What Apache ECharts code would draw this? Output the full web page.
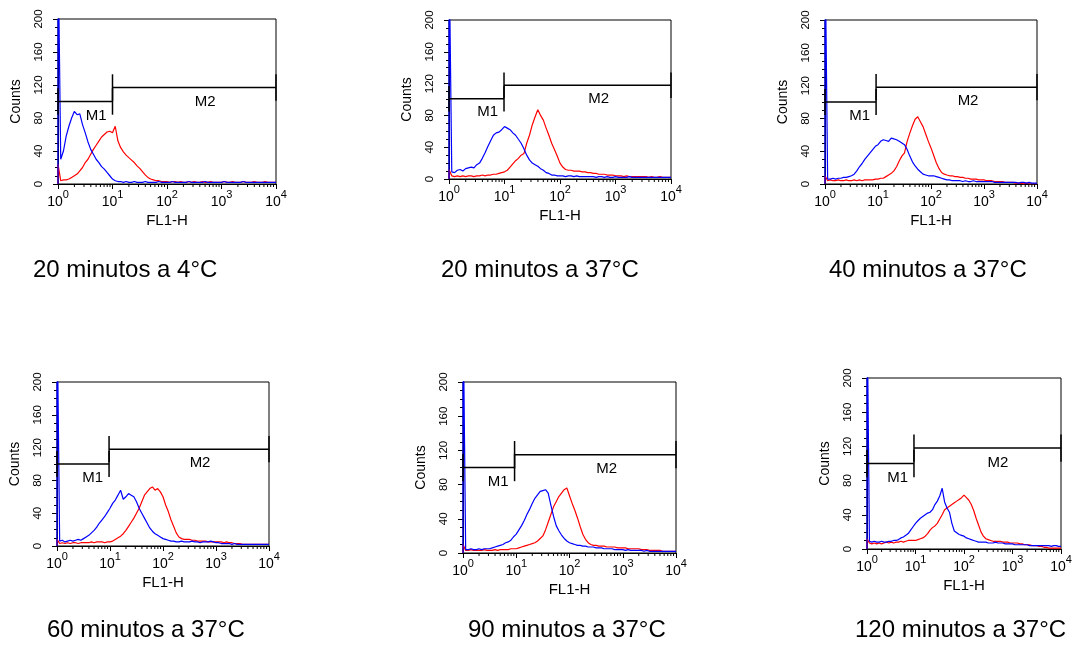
<!DOCTYPE html>
<html><head><meta charset="utf-8">
<script src="https://cdn.jsdelivr.net/npm/echarts@6/dist/echarts.min.js"></script>
<style>html,body{margin:0;padding:0;background:#fff}#c{width:1076px;height:645px}</style>
</head><body><div id="c"></div>
<script>
// FL1-H channel positions (log spaced, 0.05 decade)
const channels = [1,1.122,1.259,1.413,1.585,1.778,1.995,2.239,2.512,2.818,
3.162,3.548,3.981,4.467,5.012,5.623,6.310,7.079,7.943,8.913,
10,11.22,12.59,14.13,15.85,17.78,19.95,22.39,25.12,28.18,
31.62,35.48,39.81,44.67,50.12,56.23,63.10,70.79,79.43,89.13,
100,112.2,125.9,141.3,158.5,177.8,199.5,223.9,251.2,281.8,
316.2,354.8,398.1,446.7,501.2,562.3,631.0,707.9,794.3,891.3,
1000,1122,1259,1413,1585,1778,1995,2239,2512,2818,
3162,3548,3981,4467,5012,5623,6310,7079,7943,8913,10000];

const captions = ['20 minutos a 4°C','20 minutos a 37°C','40 minutos a 37°C','60 minutos a 37°C','90 minutos a 37°C','120 minutos a 37°C'];
const yTicks = [0,40,80,120,160,200];
const xTickExponents = ['0','1','2','3','4'];
const xMinorTicks = [2,3,4,5,6,7,8,9,20,30,40,50,60,70,80,90,200,300,400,500,600,700,800,900,2000,3000,4000,5000,6000,7000,8000,9000];
const gateNames = ['M1','M2'];
const m1End = [10, 9.8, 9.2, 9.6, 9.3, 9.3];
const m1Level = [100, 101, 100, 100, 100, 100];
const m2Level = [117, 118, 118, 118, 115, 118];

const blue1 = [300,30,40,58,70,80,88,84,85,72, 62,51,42,36,30,26,21,18,14,10, 6,4,3,3,2,3,2,2,3,2, 2,2,3,2,2,2,2,3,2,2, 2,2,3,2,2,2,2,2,3,2, 2,2,2,2,3,2,2,2,2,2, 2,3,2,2,2,2,2,2,3,2, 2,2,2,2,2,2,2,2,2,2, 2];
const red1 = [24,4,5,5,6,8,10,12,16,20, 26,30,36,42,47,52,57,60,63,64, 62,70,52,44,39,35,32,29,26,22, 19,15,11,8,6,5,4,4,3,3, 3,2,3,3,2,3,2,2,3,2, 3,2,2,3,2,2,3,2,2,2, 2,3,2,2,3,2,2,2,3,2, 2,2,3,2,2,2,3,2,2,2, 2];
const blue2 = [300,9,8,11,12,10,13,14,15,14, 18,20,26,33,41,48,55,58,59,62, 66,64,62,58,55,50,45,38,30,24, 20,18,16,13,11,8,7,5,5,4, 4,4,3,4,4,3,4,3,3,3, 3,3,3,2,3,3,2,3,2,2, 3,2,2,2,2,3,2,2,2,2, 2,2,2,2,2,2,2,2,2,2, 2];
const red2 = [12,4,3,4,3,4,3,4,4,3, 4,4,5,4,5,5,6,6,7,8, 9,11,15,19,23,26,30,32,45,55, 68,78,87,80,74,64,55,45,37,29, 20,15,12,11,11,10,10,10,9,9, 8,8,7,7,6,6,6,5,5,5, 4,4,4,3,4,3,3,3,3,3, 3,3,2,3,2,2,3,2,2,2, 2];
const blue3 = [300,6,6,7,6,7,7,8,8,9, 10,12,16,21,25,30,34,38,42,46, 48,52,54,53,52,56,55,54,52,50, 48,42,34,27,22,18,15,12,11,10, 10,10,9,8,7,6,5,5,4,4, 4,4,3,4,3,3,4,3,3,3, 3,3,3,3,2,2,2,2,2,2, 2,2,2,1,2,2,1,2,1,1, 1];
const red3 = [10,4,5,4,4,5,4,4,5,4, 4,5,4,5,4,5,5,5,5,6, 6,7,7,9,11,13,16,21,28,34, 38,52,62,71,79,82,76,70,61,52, 44,35,26,19,14,12,11,10,10,9, 9,8,8,7,7,6,6,6,5,5, 5,4,4,4,3,3,3,3,2,2, 2,2,1,1,1,0,1,0,0,0, 0];
const blue4 = [300,6,7,5,6,7,6,7,8,7, 9,11,13,16,19,23,28,32,36,41, 46,52,56,62,68,57,60,64,62,60, 54,46,40,34,28,22,18,15,13,11, 9,8,7,6,6,5,5,6,5,5, 5,6,5,5,4,5,5,5,6,5, 4,4,3,3,3,3,2,3,2,2, 2,2,2,2,2,2,2,2,2,2, 2];
const red4 = [8,3,4,3,4,3,4,4,3,4, 4,4,4,5,4,5,5,5,4,5, 5,6,8,10,12,15,19,24,29,34, 40,46,54,62,66,70,72,68,70,66, 60,50,42,32,24,16,11,9,8,8, 8,7,7,6,6,6,6,5,5,5, 5,5,5,4,5,4,4,3,3,3, 2,2,2,2,2,2,2,2,2,2, 2];
const blue5 = [300,4,4,5,4,4,5,4,5,5, 5,6,7,8,9,10,12,13,15,19, 22,27,32,38,45,51,58,64,68,72, 73,74,70,56,43,32,26,21,17,14, 12,11,10,9,9,8,8,7,7,7, 6,6,6,5,5,5,5,4,4,4, 4,3,4,3,3,3,3,3,2,3, 2,2,2,2,2,2,2,2,2,2, 2];
const red5 = [10,3,3,4,3,3,3,3,4,3, 3,3,4,3,4,4,4,4,5,5, 5,6,7,8,9,10,11,12,14,17, 20,27,36,45,54,60,66,70,74,76, 67,58,50,41,31,22,16,12,10,9, 9,8,8,8,7,7,7,7,6,6, 6,6,5,5,5,5,5,4,4,4, 3,3,3,3,3,2,2,2,2,2, 2];
const blue6 = [300,9,8,9,8,8,9,8,8,9, 9,10,10,11,13,14,16,18,22,26, 30,33,36,38,40,42,43,46,52,56, 62,71,55,48,43,30,21,19,17,16, 15,13,12,11,10,9,8,8,8,8, 7,7,7,8,7,7,7,6,6,6, 6,5,5,5,5,5,5,4,4,4, 4,4,4,4,4,4,3,4,4,3, 3];
const red6 = [12,7,6,7,6,7,6,7,8,7, 8,7,8,8,9,8,9,10,10,10, 10,11,12,13,15,18,22,25,27,30, 35,40,46,48,50,52,54,56,58,60, 63,60,57,52,45,36,28,20,15,12, 11,10,9,9,9,9,8,8,8,7, 7,7,7,6,6,5,5,5,4,4, 4,3,3,2,2,1,1,1,1,1, 1];

const blues = [blue1, blue2, blue3, blue4, blue5, blue6];
const reds = [red1, red2, red3, red4, red5, red6];

const layout = [
  {left: 58, top: 19, width: 218, height: 165},
  {left: 449, top: 20, width: 222, height: 159},
  {left: 825, top: 20, width: 212, height: 164},
  {left: 57, top: 382, width: 212, height: 164},
  {left: 463, top: 382, width: 213, height: 171},
  {left: 867, top: 378, width: 194, height: 171}
];
const captionPos = [
  {left: 33, top: 258}, {left: 441, top: 258}, {left: 829, top: 258},
  {left: 47, top: 618}, {left: 468, top: 618}, {left: 855, top: 618}
];

const FONT = '"Liberation Sans", Arial, sans-serif';
const GATE_HALF = 16, LABEL_DROP = 17, M2_LABEL_X = 500;

// histogram polyline: rises from the baseline at the first channel
function histData(counts) {
  return [[channels[0], 0]].concat(channels.map((c, k) => [c, counts[k]]));
}

const grids = [], xAxes = [], yAxes = [], series = [], titles = [];
layout.forEach((g, i) => {
  grids.push(Object.assign({show: true, borderColor: '#000', borderWidth: 1, containLabel: false}, g));
  xAxes.push({
    type: 'log', logBase: 10, min: 1, max: 10000, gridIndex: i,
    name: 'FL1-H', nameLocation: 'middle', nameGap: 29,
    nameTextStyle: {fontSize: 15, color: '#000', fontFamily: FONT},
    axisLine: {show: true, onZero: false, lineStyle: {color: '#000', width: 1}},
    axisTick: {show: true, length: 5, lineStyle: {color: '#000'}},
    splitLine: {show: false},
    axisLabel: {
      show: true, margin: 5, showMinLabel: true, showMaxLabel: true,
      formatter: v => '{b|10}{s|' + xTickExponents[Math.round(Math.log10(v))] + '}',
      rich: {
        b: {fontSize: 14, color: '#000', fontFamily: FONT, lineHeight: 20, verticalAlign: 'bottom'},
        s: {fontSize: 11, color: '#000', fontFamily: FONT, lineHeight: 10, verticalAlign: 'top'}
      }
    }
  });
  yAxes.push({
    type: 'value', min: yTicks[0], max: yTicks[yTicks.length - 1], interval: 40, gridIndex: i,
    name: 'Counts', nameLocation: 'middle', nameGap: 35, nameRotate: 90,
    nameTextStyle: {fontSize: 14, color: '#000', fontFamily: FONT},
    axisLine: {show: true, lineStyle: {color: '#000', width: 1}},
    axisTick: {show: true, length: 5, lineStyle: {color: '#000'}},
    minorTick: {show: true, splitNumber: 4, length: 3, lineStyle: {color: '#000'}},
    splitLine: {show: false},
    axisLabel: {rotate: 90, margin: 13, fontSize: 11.5, color: '#000', fontFamily: FONT}
  });
  series.push({
    type: 'line', xAxisIndex: i, yAxisIndex: i, showSymbol: false, symbol: 'none',
    clip: true, lineStyle: {color: '#ff0000', width: 1.2}, z: 3,
    data: histData(reds[i])
  });
  series.push({
    type: 'line', xAxisIndex: i, yAxisIndex: i, showSymbol: false, symbol: 'none',
    clip: true, lineStyle: {color: '#0000ff', width: 1.2}, z: 4,
    data: histData(blues[i])
  });
  // minor log ticks on the x axis
  series.push({
    type: 'custom', xAxisIndex: i, yAxisIndex: i, clip: false, silent: true, z: 5,
    data: xMinorTicks.map(v => [v, 0]),
    renderItem: (params, api) => {
      const p = api.coord([api.value(0), 0]);
      return {type: 'line', shape: {x1: p[0], y1: p[1], x2: p[0], y2: p[1] + 3}, style: {stroke: '#000', lineWidth: 1}};
    }
  });
  // M1 / M2 gates
  series.push({
    type: 'custom', xAxisIndex: i, yAxisIndex: i, clip: false, silent: true, z: 6,
    data: [[1, m1End[i], m1Level[i]], [m1End[i], 10000, m2Level[i]]],
    renderItem: (params, api) => {
      const x1 = api.value(0), x2 = api.value(1), lv = api.value(2);
      const a = api.coord([x1, lv]), b = api.coord([x2, lv]);
      const half = Math.abs(api.coord([x1, lv + GATE_HALF])[1] - a[1]);
      const st = {stroke: '#000', lineWidth: 1.5};
      const children = [
        {type: 'line', shape: {x1: a[0], y1: a[1], x2: b[0], y2: b[1]}, style: st},
        {type: 'line', shape: {x1: a[0], y1: a[1] - half, x2: a[0], y2: a[1] + half}, style: st},
        {type: 'line', shape: {x1: b[0], y1: b[1] - half, x2: b[0], y2: b[1] + half}, style: st}
      ];
      if (params.dataIndex === 0) {
        const p = api.coord([x2, lv - LABEL_DROP]);
        children.push({type: 'text', x: p[0] - 6, y: p[1], style: {text: gateNames[0], align: 'right', verticalAlign: 'middle', fontSize: 15, fill: '#000', fontFamily: FONT}});
      } else {
        const p = api.coord([M2_LABEL_X, lv - LABEL_DROP]);
        children.push({type: 'text', x: p[0], y: p[1], style: {text: gateNames[1], align: 'center', verticalAlign: 'middle', fontSize: 15, fill: '#000', fontFamily: FONT}});
      }
      return {type: 'group', children};
    }
  });
  titles.push({
    text: captions[i], left: captionPos[i].left, top: captionPos[i].top, padding: 0,
    textStyle: {fontSize: 24, fontWeight: 'normal', color: '#000', fontFamily: FONT}
  });
});

const chart = echarts.init(document.getElementById('c'), null, {renderer: 'canvas'});
chart.setOption({
  animation: false,
  backgroundColor: '#fff',
  title: titles,
  grid: grids,
  xAxis: xAxes,
  yAxis: yAxes,
  series: series
});
</script>
</body></html>
